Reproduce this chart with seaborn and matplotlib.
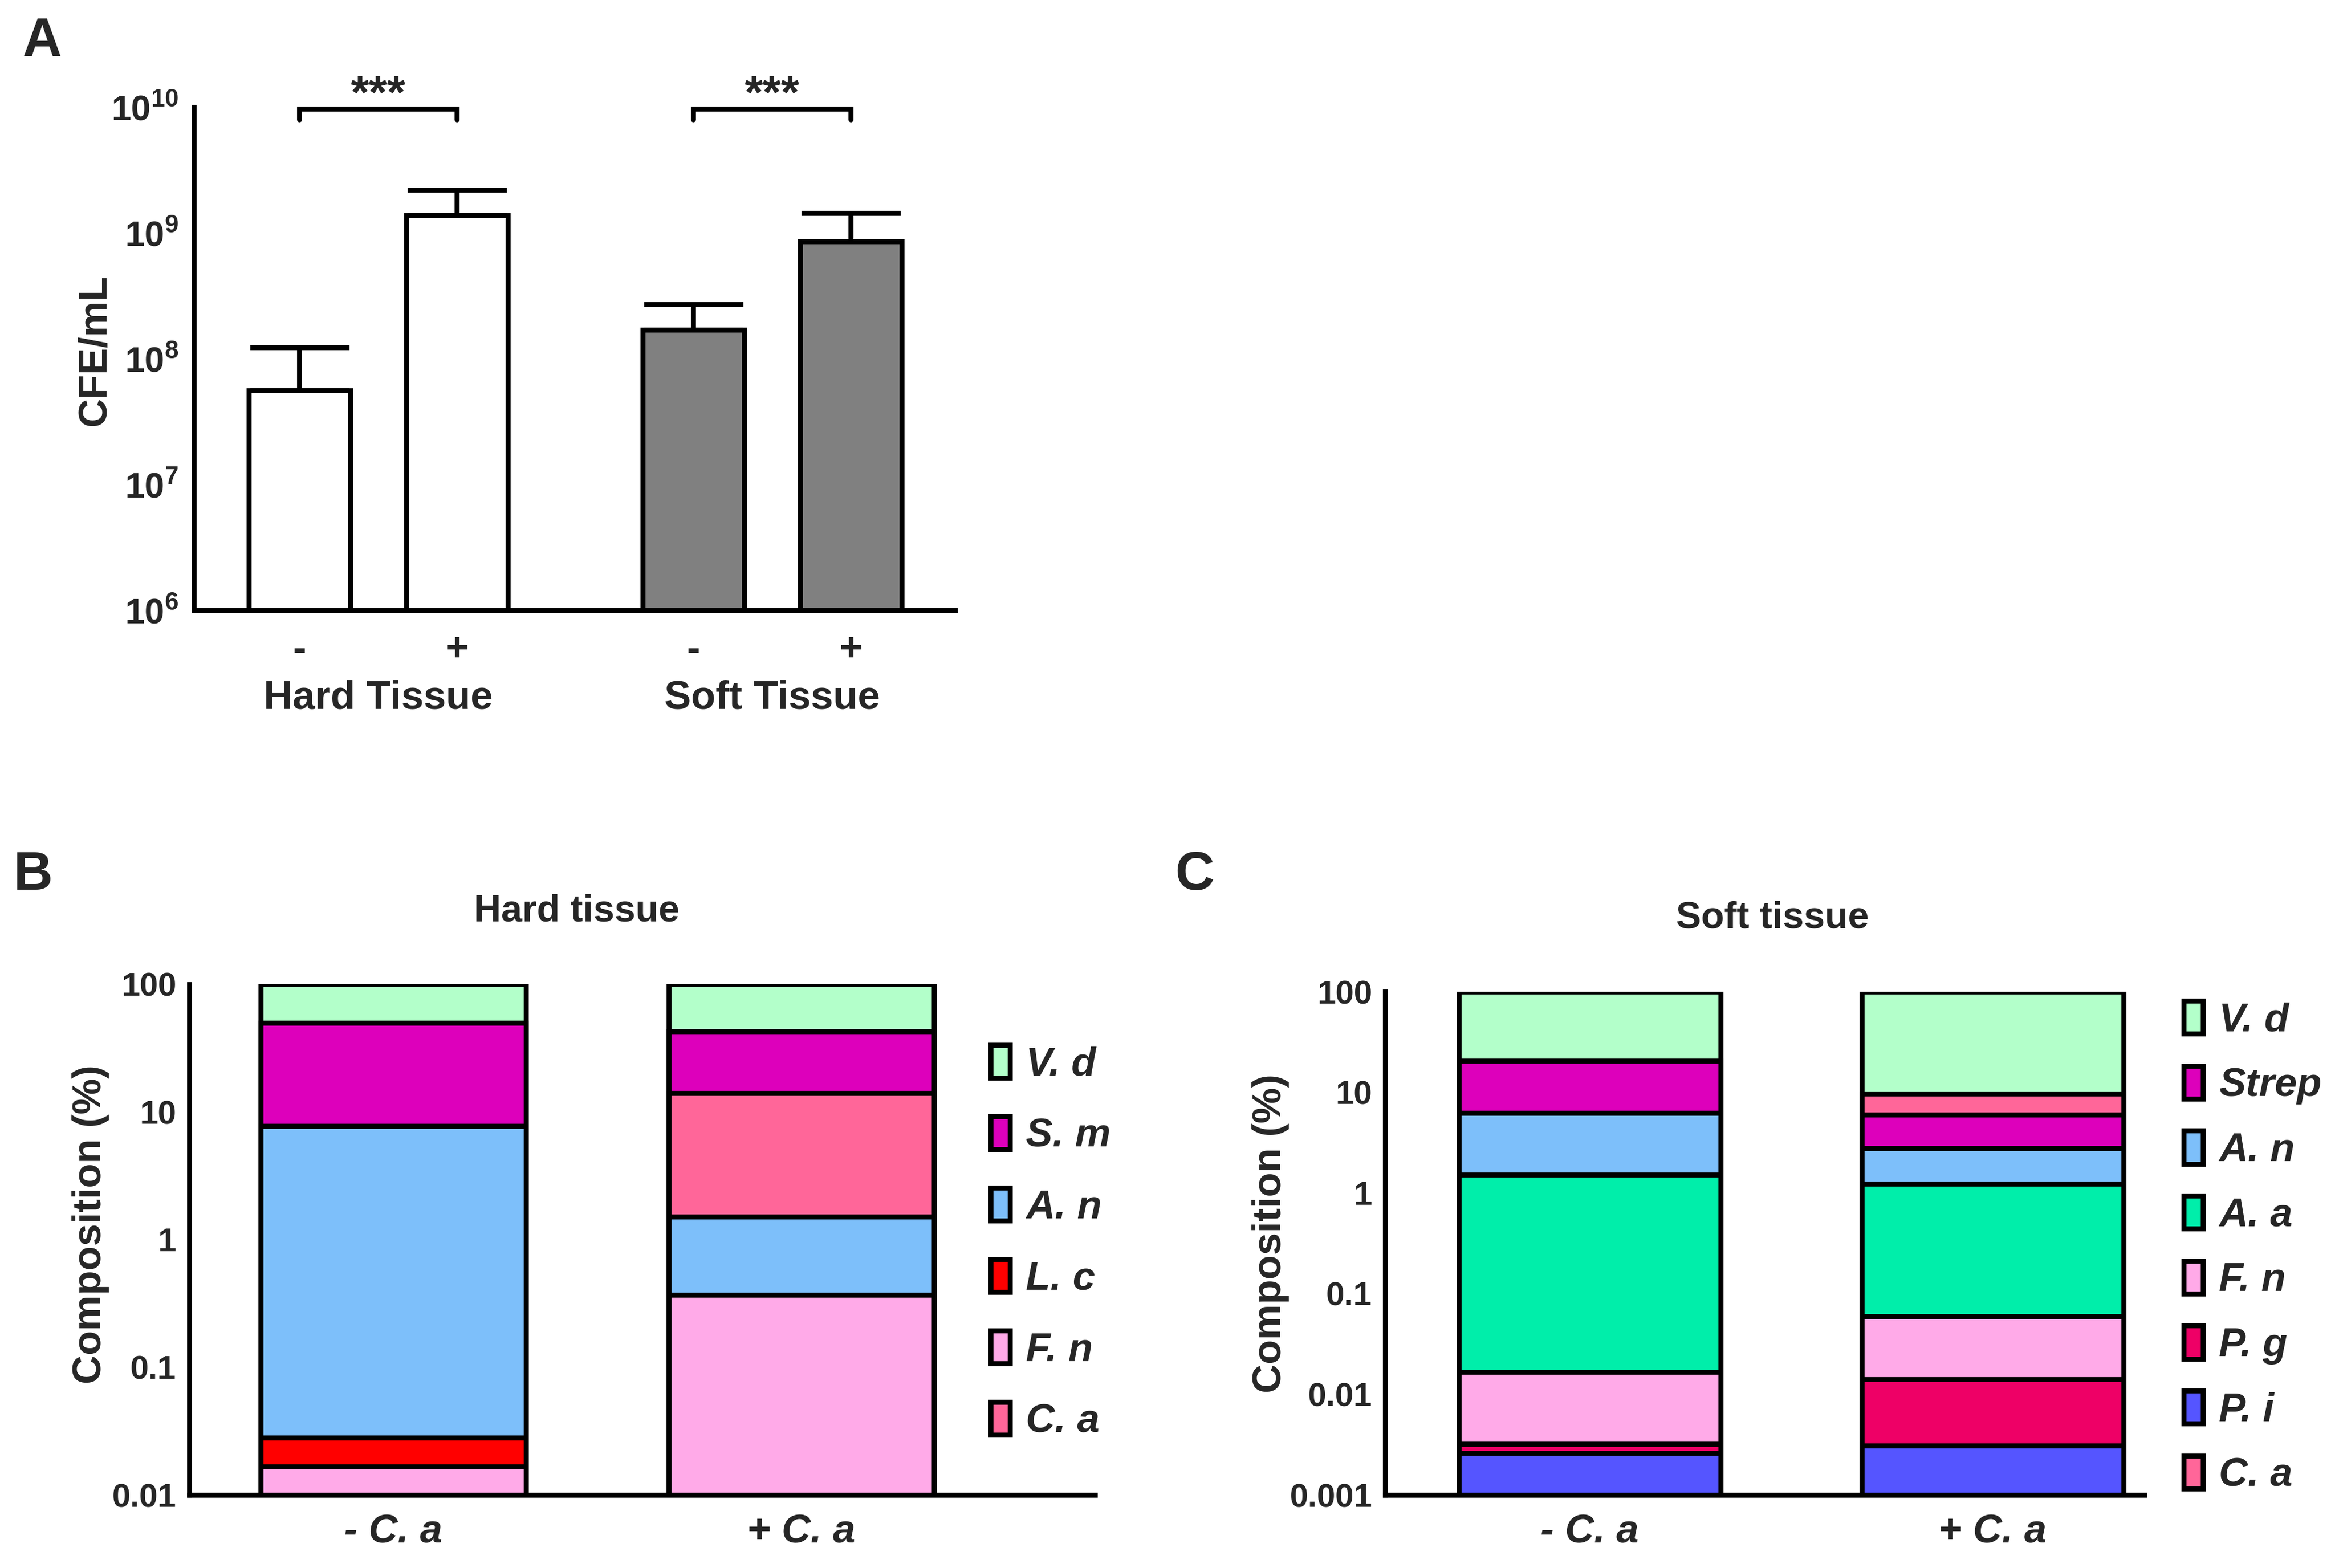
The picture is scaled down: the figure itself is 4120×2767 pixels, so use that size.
import matplotlib
matplotlib.use("Agg")
import matplotlib.pyplot as plt
import matplotlib.transforms as mtrans
from matplotlib.patches import Patch
from matplotlib.ticker import FixedLocator, LogLocator, NullFormatter, NullLocator
import numpy as np
import pandas as pd
import seaborn as sns

# ---- data: panel A (CFE/mL, mean and upper error) ----
a_pos = [0, 1, 2.5, 3.5]
a_tissue = ["Hard", "Hard", "Soft", "Soft"]
a_sign = ["-", "+", "-", "+"]
a_mean = [5.6e7, 1.38e9, 1.7e8, 8.6e8]
a_err_top = [1.23e8, 2.2e9, 2.7e8, 1.44e9]
a_groups = ["Hard Tissue", "Soft Tissue"]

# ---- data: panel B / C, cumulative top of each stacked segment (%) ----
conds = ["- C. a", "+ C. a"]

hard_species = ["V. d", "S. m", "A. n", "L. c", "F. n", "C. a"]
hard_minus = [100, 50, 7.8, 0.028, 0.0166, np.nan]
hard_plus = [100, 43, 1.52, np.nan, 0.37, 14]

soft_species = ["V. d", "Strep", "A. n", "A. a", "F. n", "P. g", "P. i", "C. a"]
soft_minus = [100, 20.5, 6.2, 1.51, 0.0166, 0.0032, 0.0026, np.nan]
soft_plus = [100, 6.0, 2.8, 1.24, 0.059, 0.0141, 0.0031, 9.7]

colors = {
    "V. d": "#B3FFCA", "S. m": "#DD00BB", "Strep": "#DD00BB",
    "A. n": "#7DBFFA", "L. c": "#FF0000", "F. n": "#FFAAE8",
    "C. a": "#FF6699", "A. a": "#00EEAA", "P. g": "#EE0066",
    "P. i": "#5555FF",
}

sns.set_style("white")
plt.rcParams["font.family"] = ["Liberation Sans", "DejaVu Sans"]
plt.rcParams["font.weight"] = "bold"
plt.rcParams["mathtext.default"] = "regular"

W, H = 4120, 2767
fig = plt.figure(figsize=(W / 300, H / 300), dpi=300)


def frac(l, t, r, b):
    return [l / W, 1 - b / H, (r - l) / W, (b - t) / H]


LW = 2.1

# ================= Panel A =================
axA = fig.add_axes(frac(342, 189, 1685, 1077))
axA.set_yscale("log")
dfA = pd.DataFrame({"x": a_pos, "y": a_mean, "tissue": a_tissue})
axA.errorbar(a_pos, a_mean, yerr=[np.zeros(4), np.array(a_err_top) - np.array(a_mean)],
             fmt="none", ecolor="black", elinewidth=LW, capsize=21, capthick=LW, zorder=1)
sns.barplot(data=dfA, x="x", y="y", hue="tissue", native_scale=True, dodge=False,
            palette={"Hard": "white", "Soft": "#808080"}, width=0.644,
            edgecolor="black", linewidth=LW, errorbar=None, legend=False, ax=axA)
for p in axA.patches:
    p.set_zorder(2)
axA.set_ylim(1e6, 1e10)
axA.set_xlim(-0.67, 4.16)
axA.yaxis.set_major_locator(FixedLocator([1e6, 1e7, 1e8, 1e9, 1e10]))
axA.yaxis.set_minor_locator(NullLocator())
axA.set_yticklabels([r"10$^{6}$", r"10$^{7}$", r"10$^{8}$", r"10$^{9}$", r"10$^{10}$"],
                    fontsize=15, fontweight="bold")
axA.set_xticks(a_pos + [1.75])
axA.set_xticklabels(a_sign + [""], fontsize=17, fontweight="bold")
axA.set_xlabel("")
axA.set_ylabel("CFE/mL", fontsize=17, fontweight="bold")
axA.yaxis.set_label_coords(-0.105, 0.517)
for s in ["top", "right"]:
    axA.spines[s].set_visible(False)
for s in ["left", "bottom"]:
    axA.spines[s].set_linewidth(LW)
    axA.spines[s].set_color("black")
axA.tick_params(axis="both", direction="out", length=4.5, width=LW, color="black")
axA.tick_params(axis="x", pad=4.5)
axA.tick_params(axis="y", pad=2)
trA = mtrans.blended_transform_factory(axA.transData, axA.transAxes)
axA.text(0.5, -0.175, a_groups[0], transform=trA, ha="center", va="center",
         fontsize=17, fontweight="bold")
axA.text(3.0, -0.175, a_groups[1], transform=trA, ha="center", va="center",
         fontsize=17, fontweight="bold")
# significance brackets
for x0, x1 in [(0, 1), (2.5, 3.5)]:
    axA.plot([x0, x0, x1, x1], [8.0e9, 9.7e9, 9.7e9, 8.0e9], color="black",
             lw=LW, clip_on=False, solid_joinstyle="miter")
    axA.text((x0 + x1) / 2, 1.22e10, "***", ha="center", va="center",
             fontsize=20, fontweight="bold", clip_on=False)


# ================= Panels B and C =================
def stacked(ax, species, minus, plus, xlim, ylo, ticks, ticklabels):
    ax.set_yscale("log")
    # draw each bar's segments from the tallest cumulative top down
    for cond, tops in zip(conds, [minus, plus]):
        segs = sorted([(t, s) for s, t in zip(species, tops) if not np.isnan(t)],
                      reverse=True)
        for t, s in segs:
            layer = pd.DataFrame({"cond": [cond], "top": [t]})
            sns.barplot(data=layer, x="cond", y="top", order=conds,
                        color=colors[s], saturation=1, width=0.65,
                        edgecolor="black", linewidth=LW, errorbar=None, ax=ax)
    ax.set_ylim(ylo, 100)
    ax.set_xlim(*xlim)
    ax.yaxis.set_major_locator(FixedLocator(ticks))
    ax.yaxis.set_minor_locator(LogLocator(base=10, subs=np.arange(2, 10)))
    ax.yaxis.set_minor_formatter(NullFormatter())
    ax.set_yticklabels(ticklabels, fontsize=14, fontweight="bold")
    ax.set_xticks([0, 1])
    ax.set_xticklabels(conds, fontsize=17, fontweight="bold", style="italic")
    ax.set_xlabel("")
    ax.set_ylabel("Composition (%)", fontsize=17, fontweight="bold")
    for s in ["top", "right"]:
        ax.spines[s].set_visible(False)
    for s in ["left", "bottom"]:
        ax.spines[s].set_linewidth(LW)
        ax.spines[s].set_color("black")
    ax.tick_params(axis="both", which="major", direction="out", length=4.5,
                   width=LW, color="black")
    ax.tick_params(axis="y", which="minor", direction="out", length=3,
                   width=1.2, color="black")
    ax.tick_params(axis="x", pad=3.5)
    ax.tick_params(axis="y", pad=1)


axB = fig.add_axes(frac(334, 1737, 1932, 2638))
stacked(axB, hard_species, hard_minus, hard_plus, (-0.5, 1.72), 0.01,
        [0.01, 0.1, 1, 10, 100], ["0.01", "0.1", "1", "10", "100"])
axB.yaxis.set_label_coords(-0.088, 0.53)
axB.legend(handles=[Patch(facecolor=colors[s], edgecolor="black", linewidth=LW, label=s)
                    for s in hard_species],
           loc="upper left", bbox_to_anchor=(1748 / W, 1 - 1844 / H),
           bbox_transform=fig.transFigure, frameon=False, borderpad=0,
           borderaxespad=0, handlelength=0.48, handleheight=0.89,
           handletextpad=0.4, labelspacing=0.81,
           prop=dict(size=17, weight="bold", style="italic"))

axC = fig.add_axes(frac(2444, 1750, 3784, 2638))
stacked(axC, soft_species, soft_minus, soft_plus, (-0.508, 1.377), 0.001,
        [0.001, 0.01, 0.1, 1, 10, 100], ["0.001", "0.01", "0.1", "1", "10", "100"])
axC.yaxis.set_label_coords(-0.126, 0.52)
axC.legend(handles=[Patch(facecolor=colors[s], edgecolor="black", linewidth=LW, label=s)
                    for s in soft_species],
           loc="upper left", bbox_to_anchor=(3853 / W, 1 - 1766 / H),
           bbox_transform=fig.transFigure, frameon=False, borderpad=0,
           borderaxespad=0, handlelength=0.48, handleheight=0.89,
           handletextpad=0.4, labelspacing=0.65,
           prop=dict(size=17, weight="bold", style="italic"))

# titles and panel letters
fig.text(1017 / W, 1 - 1608 / H, "Hard tissue", ha="center", va="center",
         fontsize=16, fontweight="bold")
fig.text(3127 / W, 1 - 1621 / H, "Soft tissue", ha="center", va="center",
         fontsize=16, fontweight="bold")
for letter, (px, py) in {"A": (74, 74), "B": (58, 1545), "C": (2108, 1545)}.items():
    fig.text(px / W, 1 - py / H, letter, ha="center", va="center",
             fontsize=23, fontweight="bold")

fig.savefig("out.png", dpi=300, facecolor="white")
